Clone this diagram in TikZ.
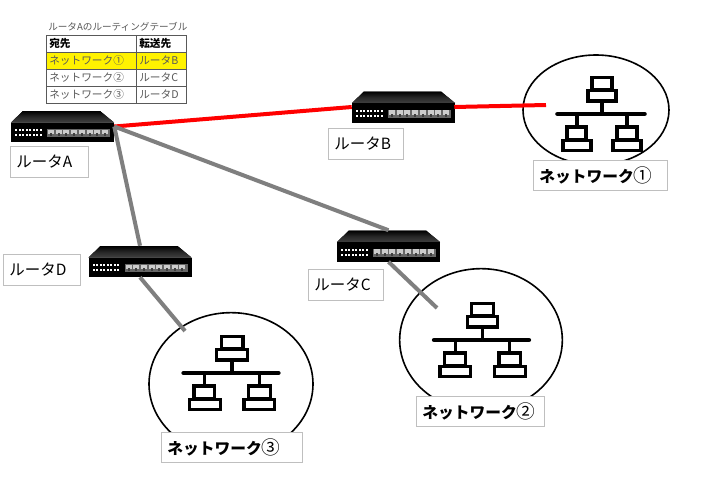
\documentclass[tikz,border=0pt]{standalone}
\usepackage{fontspec}
\setmainfont{Noto Sans CJK JP}
\usetikzlibrary{shapes.geometric}
\definecolor{linegray}{HTML}{7F7F7F}
\definecolor{boxgray}{HTML}{BFBFBF}
\definecolor{celltext}{HTML}{595959}
\newcommand{\thindigit}[1]{{\mdseries\fontsize{14pt}{14pt}\selectfont #1}}
\tikzset{
  x=0.75pt,y=-0.75pt,
  redlink/.style={draw=red,line width=3pt},
  graylink/.style={draw=linegray,line width=3pt},
  namebox/.style={draw=boxgray,fill=white,line width=0.6pt,inner xsep=4.5pt,inner ysep=0pt,minimum height=23pt,anchor=north west,font=\fontsize{11.6pt}{13pt}\selectfont,align=left},
  netbox/.style={namebox,font=\bfseries\fontsize{11.8pt}{14pt}\selectfont,minimum height=22.5pt},
  netcircle/.style={draw=black,line width=1.2pt,ellipse,inner sep=0pt,fill=white},
  routerbox/.style={inner sep=0pt,minimum width=76.5pt,minimum height=23.25pt},
  iconline/.style={draw=black,line width=2.4pt,fill=white},
  iconbus/.style={draw=black,line width=3.4pt,line cap=round},
  cellframe/.style={draw=celltext,line width=0.6pt},
  celltxt/.style={anchor=west,inner sep=0pt,text=celltext,font=\fontsize{8pt}{10pt}\selectfont},
  cellhead/.style={anchor=west,inner sep=0pt,text=black,font=\bfseries\fontsize{8pt}{10pt}\selectfont},
  pics/routerart/.style={code={
    \fill[top color=black,bottom color=black!75!white,middle color=black!85!white] (12,0) -- (89,0) -- (103,11.5) -- (0,11.5) -- cycle;
    \fill[black] (0,11.5) rectangle (103,31);
    \fill[black!60!white] (36,18) rectangle (99,26);
    \foreach \i in {0,...,7}{
      \fill[black!20!white] (37+7.7*\i,18.5) rectangle (43+7.7*\i,23);
      \fill[black!75!white] (39+7.7*\i,22) rectangle (41+7.7*\i,25);
    }
    \foreach \i in {0,...,7}{
      \fill[white] (4+3.5*\i,18) rectangle (6+3.5*\i,20);
      \fill[white] (4+3.5*\i,23) rectangle (6+3.5*\i,25);
    }
  }},
  pics/neticon/.style={code={
    \draw[iconbus] (-43.5,0) -- (43.5,0);
    \draw[iconline] (1,0) -- (1,-12);
    \draw[iconline] (-24,0) -- (-24,13);
    \draw[iconline] (26,0) -- (26,13);
    \draw[iconline] (-9,-36.5) rectangle (11,-24);
    \draw[iconline] (-13,-23.5) rectangle (15,-13);
    \draw[iconline] (-34,13) rectangle (-15,26);
    \draw[iconline] (-38,26.5) rectangle (-10,36.5);
    \draw[iconline] (16,13) rectangle (36,26);
    \draw[iconline] (12,26.5) rectangle (40,36.5);
  }}
}
\begin{document}
\begin{tikzpicture}
\useasboundingbox (0,0) rectangle (718,500);
\fill[white] (0,0) rectangle (718,500);
% networks
\node[netcircle,minimum width=109.5pt,minimum height=82.5pt] (n1) at (596,110) {};
\node[netcircle,minimum width=122pt,minimum height=107pt] (n2) at (481,340) {};
\node[netcircle,minimum width=123pt,minimum height=107pt] (n3) at (231,384) {};
\pic at (601,114) {neticon};
\pic[xscale=1.09] at (481.5,340) {neticon};
\pic[xscale=1.09] at (231,373) {neticon};
\coordinate (e1) at (546,105);
\coordinate (e2) at (437,308);
\coordinate (e3) at (185,331);
% routers
\node[routerbox,minimum width=77.25pt] (ra) at (62.5,126.5) {};
\node[routerbox] (rb) at (403,107) {};
\node[routerbox] (rc) at (388.5,246) {};
\node[routerbox] (rd) at (140,261.5) {};
\pic at (11,111) {routerart};
\pic at (352,91.5) {routerart};
\pic at (337,230.5) {routerart};
\pic at (88.5,246) {routerart};
% links
\draw[redlink] (ra.east) -- (rb.west);
\draw[redlink] (rb.east) -- (e1);
\draw[graylink] (ra.east) -- (rc.north);
\draw[graylink] (ra.east) -- (rd.north);
\draw[graylink] (rc.south) -- (e2);
\draw[graylink] (rd.south) -- (e3);
% labels
\node[namebox,text width=49.5pt] (la) at (10,146) {ルータA};
\node[namebox,text width=47pt] (lb) at (328,128) {ルータB};
\node[namebox,text width=47pt] (lc) at (308,269) {ルータC};
\node[namebox,text width=49pt] (ld) at (3,254) {ルータD};
\node[netbox,text width=91.5pt] (l1) at (533,160) {ネットワーク\thindigit{①}};
\node[netbox,text width=87pt] (l2) at (416,396) {ネットワーク\thindigit{②}};
\node[netbox,text width=97pt] (l3) at (161,432) {ネットワーク\thindigit{③}};
% table
\node[anchor=west,inner sep=0pt,text=celltext,font=\fontsize{7.2pt}{8pt}\selectfont] (ttl) at (48,27) {ルータAのルーティングテーブル};
\fill[yellow] (46,52) rectangle (186,69);
\draw[cellframe] (46,35) rectangle (186,103);
\draw[cellframe] (46,52) -- (186,52) (46,69) -- (186,69) (46,86) -- (186,86) (136,35) -- (136,103);
\node[cellhead] (h1) at (49,43.5) {宛先};
\node[cellhead] (h2) at (139,43.5) {転送先};
\node[celltxt] (c1) at (49,60.5) {ネットワーク①};
\node[celltxt] (d1) at (139,60.5) {ルータB};
\node[celltxt] (c2) at (49,77.5) {ネットワーク②};
\node[celltxt] (d2) at (139,77.5) {ルータC};
\node[celltxt] (c3) at (49,94.5) {ネットワーク③};
\node[celltxt] (d3) at (139,94.5) {ルータD};
\end{tikzpicture}
\end{document}
